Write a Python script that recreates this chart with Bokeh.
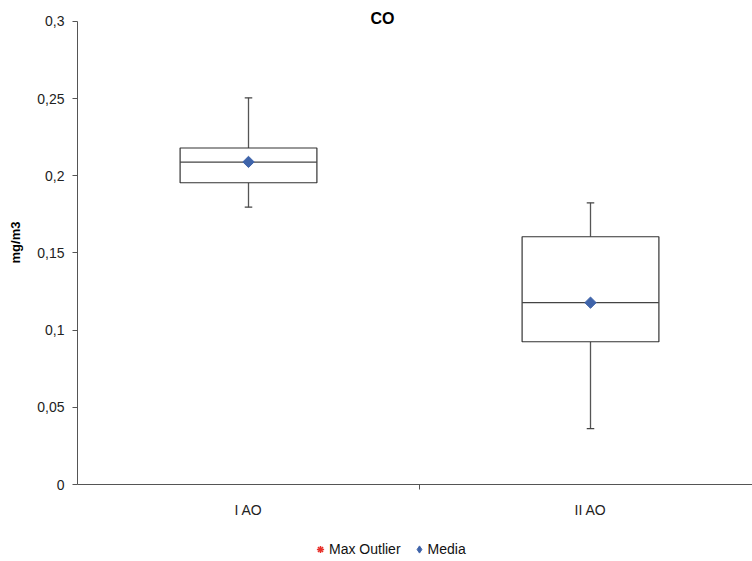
from bokeh.plotting import figure
from bokeh.layouts import column
from bokeh.models import Range1d, FixedTicker, Legend, LegendItem, ColumnDataSource, Label
from bokeh.embed import file_html
from bokeh.resources import INLINE

# ---- data ----
categories = ["I AO", "II AO"]
q1 = [0.1955, 0.0925]
median = [0.2088, 0.1178]
q3 = [0.2180, 0.1605]
whisker_low = [0.1797, 0.0362]
whisker_high = [0.2505, 0.1825]
mean = [0.2090, 0.1178]
max_outlier = []  # no max outliers shown

y_ticks = [0, 0.05, 0.1, 0.15, 0.2, 0.25, 0.3]
y_tick_labels = ["0", "0,05", "0,1", "0,15", "0,2", "0,25", "0,3"]

title_text = "CO"
y_label = "mg/m3"

# ---- layout constants ----
W = 752
H_MAIN = 520
H_LEG = 41
frame_left = 77
frame_top = 21
px_per_unit = 1546.7  # pixels per mg/m3
cat_px = 342.0

xpos = [i + 0.5 for i in range(len(categories))]
x_end = (W - frame_left) / cat_px
box_w = 0.4
cap_w = 0.022

font = "Liberation Sans"
axis_col = "#555555"
MEDIA_COL = "#3F64AA"
OUT_COL = "#E8302A"

p = figure(width=W, height=H_MAIN, output_backend="svg", toolbar_location=None,
           x_range=Range1d(0, x_end),
           y_range=Range1d(0, 0.3 + frame_top / px_per_unit),
           min_border_left=frame_left, min_border_right=0, min_border_top=0,
           min_border_bottom=35)
p.outline_line_color = None
p.grid.visible = False

# y axis
p.yaxis.ticker = FixedTicker(ticks=y_ticks, minor_ticks=[])
p.yaxis.major_label_overrides = {t: l for t, l in zip(y_ticks, y_tick_labels)}
p.yaxis.bounds = (0, 0.3)
p.yaxis.axis_label = y_label
p.yaxis.axis_label_text_font = font
p.yaxis.axis_label_text_font_style = "bold"
p.yaxis.axis_label_text_font_size = "13px"
p.yaxis.axis_label_text_color = "#000000"
p.yaxis.axis_label_standoff = 11
p.yaxis.major_label_text_font = font
p.yaxis.major_label_text_font_size = "14px"
p.yaxis.major_label_text_color = "#222222"
p.yaxis.major_label_standoff = 8
p.yaxis.major_tick_out = 5
p.yaxis.major_tick_in = 0
p.yaxis.axis_line_color = axis_col
p.yaxis.major_tick_line_color = axis_col

# x axis
p.xaxis.ticker = FixedTicker(ticks=xpos, minor_ticks=[1.0])
p.xaxis.major_label_overrides = {x: c for x, c in zip(xpos, categories)}
p.xaxis.major_tick_out = 0
p.xaxis.major_tick_in = 0
p.xaxis.minor_tick_out = 5
p.xaxis.minor_tick_in = 0
p.xaxis.minor_tick_line_color = axis_col
p.xaxis.axis_line_color = axis_col
p.xaxis.major_label_text_font = font
p.xaxis.major_label_text_font_size = "14px"
p.xaxis.major_label_text_color = "#222222"
p.xaxis.major_label_standoff = 12

src = ColumnDataSource(dict(x=xpos, q1=q1, q3=q3, med=median, lo=whisker_low,
                            hi=whisker_high, mean=mean,
                            left=[x - box_w / 2 for x in xpos],
                            right=[x + box_w / 2 for x in xpos],
                            cl=[x - cap_w / 2 for x in xpos],
                            cr=[x + cap_w / 2 for x in xpos]))

# whiskers
p.segment(x0="x", y0="q3", x1="x", y1="hi", source=src, line_color="#555555", line_width=1.3)
p.segment(x0="x", y0="lo", x1="x", y1="q1", source=src, line_color="#555555", line_width=1.3)
p.segment(x0="cl", y0="hi", x1="cr", y1="hi", source=src, line_color="#444444", line_width=1.3)
p.segment(x0="cl", y0="lo", x1="cr", y1="lo", source=src, line_color="#444444", line_width=1.3)
# boxes
p.quad(left="left", right="right", bottom="q1", top="q3", source=src,
       fill_color="white", line_color="#333333", line_width=1.2)
p.segment(x0="left", y0="med", x1="right", y1="med", source=src, line_color="#444444", line_width=1.2)

# media
p.scatter(x="x", y="mean", source=src, marker="square", angle=0.785398, size=8,
          fill_color=MEDIA_COL, line_color=MEDIA_COL)
# max outlier (none)
p.scatter(x=[], y=max_outlier, marker="asterisk", size=9,
          line_color=OUT_COL, line_width=1.5)

# title
title = Label(x=(370 - frame_left) / cat_px, y=0.3 + 3 / px_per_unit, text=title_text,
              text_font=font, text_font_style="bold", text_font_size="16px",
              text_color="#000000", text_baseline="middle", text_align="left")
p.add_layout(title)

# ---- legend strip: its y range lies above the data, so only the legend swatches show ----
lg = figure(width=W, height=H_LEG, output_backend="svg", toolbar_location=None,
            x_axis_type=None, y_axis_type=None, min_border=0,
            x_range=Range1d(0, x_end), y_range=Range1d(1, 2))
lg.outline_line_color = None
lg.grid.visible = False
r_out = lg.scatter(x="x", y="mean", source=src, marker="asterisk",
                   line_color=OUT_COL, line_width=1.5)
r_mean = lg.scatter(x="x", y="mean", source=src, marker="diamond",
                    fill_color=MEDIA_COL, line_color=MEDIA_COL)
legend = Legend(items=[LegendItem(label="Max Outlier", renderers=[r_out]),
                       LegendItem(label="Media", renderers=[r_mean])],
                orientation="horizontal", location=(234, 3),
                label_text_font=font, label_text_font_size="14px",
                label_text_color="#111111", glyph_width=18, glyph_height=18,
                label_height=18, label_standoff=0, spacing=9,
                padding=0, margin=0, border_line_color=None,
                background_fill_alpha=0)
lg.add_layout(legend)

open("out.html", "w").write(file_html(column(p, lg, spacing=0), INLINE))
